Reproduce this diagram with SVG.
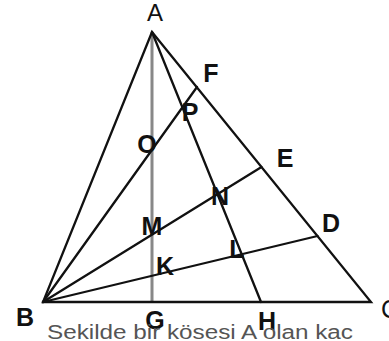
<svg xmlns="http://www.w3.org/2000/svg" width="389" height="341" viewBox="0 0 389 341">
<style>
.ln{stroke:#111;stroke-width:2.3;fill:none;stroke-linecap:round}
.gr{stroke:#888;stroke-width:3;fill:none}
.lb{font-family:"Liberation Sans",Arial,sans-serif;font-size:25px;font-weight:bold;fill:#111;text-anchor:middle}
.cap{font-family:"Liberation Sans",Arial,sans-serif;font-size:20px;fill:#555}
</style>
<rect width="389" height="341" fill="#fff"/>
<g id="connectors">
<line class="gr" x1="152" y1="32" x2="152" y2="302"/>
<polygon class="ln" points="152,32 43,302 371,302"/>
<line class="ln" x1="152" y1="32" x2="261" y2="302"/>
<line class="ln" x1="43" y1="302" x2="197" y2="87"/>
<line class="ln" x1="43" y1="302" x2="261.5" y2="167"/>
<line class="ln" x1="43" y1="302" x2="317.5" y2="236"/>
</g>
<g id="A"><text class="lb" x="155" y="21" style="font-weight:normal;font-size:24px">A</text></g>
<g id="F"><text class="lb" x="211" y="82">F</text></g>
<g id="P"><text class="lb" x="190" y="121">P</text></g>
<g id="O"><text class="lb" x="147" y="153">O</text></g>
<g id="E"><text class="lb" x="285" y="167">E</text></g>
<g id="N"><text class="lb" x="220" y="205">N</text></g>
<g id="M"><text class="lb" x="152" y="235">M</text></g>
<g id="D"><text class="lb" x="331" y="232">D</text></g>
<g id="L"><text class="lb" x="237" y="258">L</text></g>
<g id="K"><text class="lb" x="165" y="275">K</text></g>
<g id="B"><text class="lb" x="25" y="326">B</text></g>
<g id="G"><text class="lb" x="155" y="329">G</text></g>
<g id="H"><text class="lb" x="267" y="330">H</text></g>
<g id="C"><text class="lb" x="381" y="318" style="text-anchor:start;font-weight:normal">C</text></g>
<text class="cap" x="47" y="339" textLength="306" lengthAdjust="spacingAndGlyphs">Sekilde bir kösesi A olan kac</text>
</svg>
